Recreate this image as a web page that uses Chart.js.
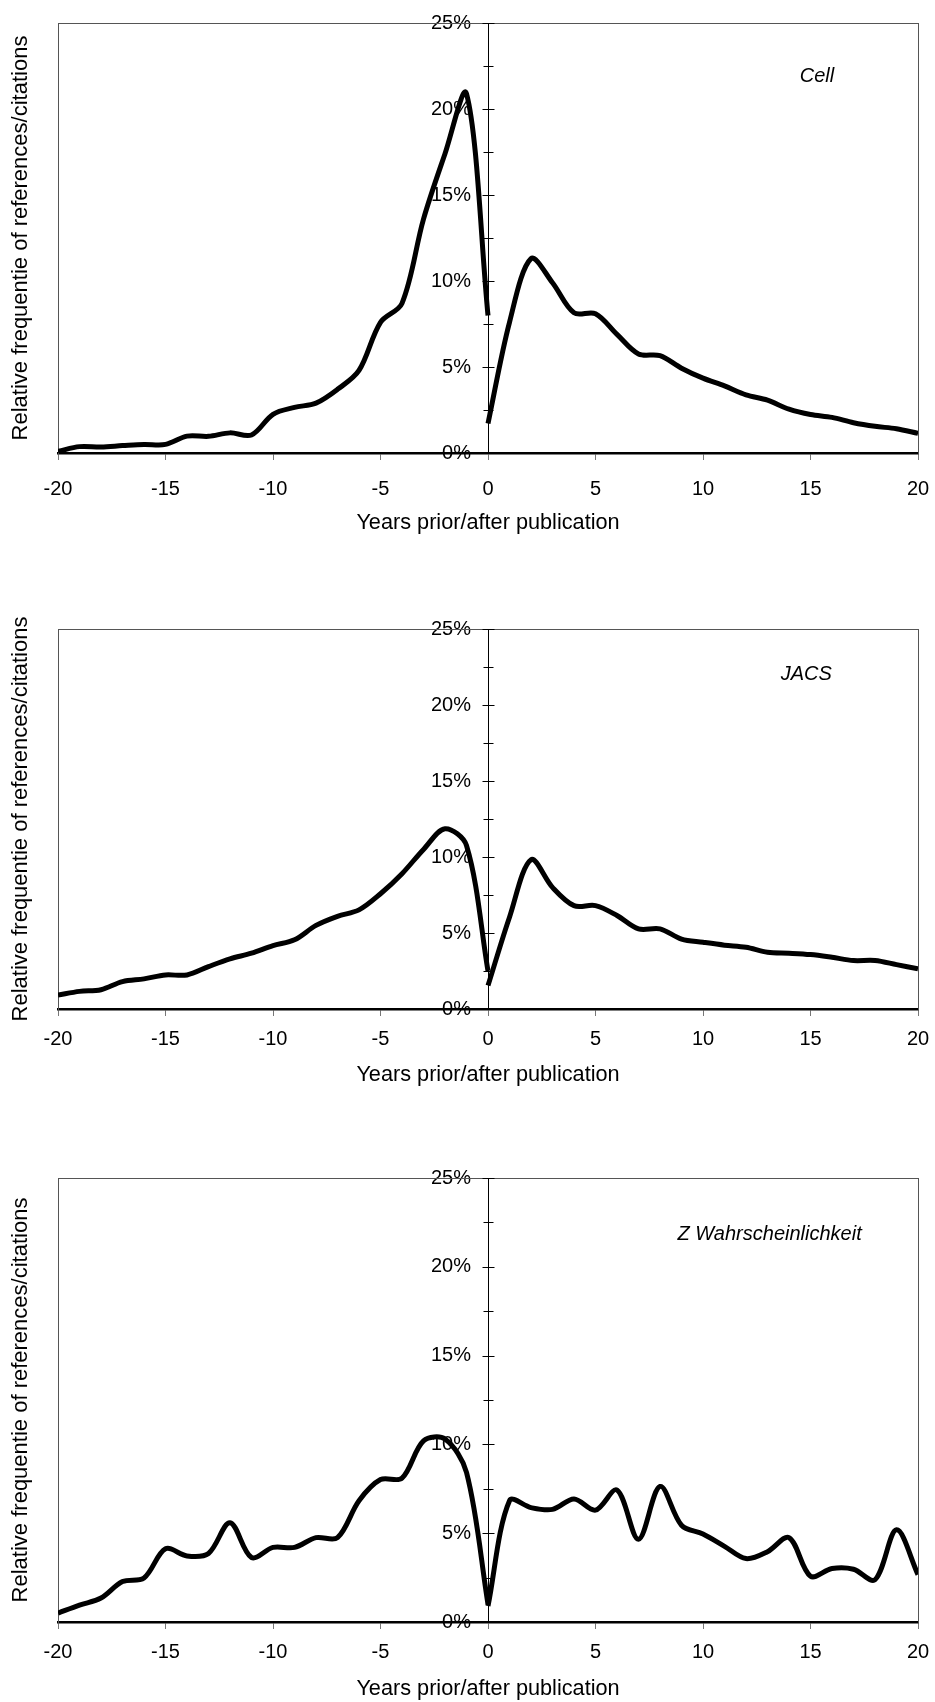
<!DOCTYPE html>
<html lang="en">
  <head>
    <meta charset="UTF-8" />
    <title>Age of references and citations</title>
    <script src="https://cdn.jsdelivr.net/npm/chart.js@4.4.1/dist/chart.umd.min.js"></script>
    <style>
      body { margin: 0; background: #fff; }
      #wrap { position: relative; width: 935px; height: 1702px; }
      canvas { position: absolute; left: 0; }
    </style>
  </head>
  <body>
  <div id="wrap">
    <canvas id="cellChart" width="935" height="570" style="top:0px"></canvas>
    <canvas id="jacsChart" width="935" height="530" style="top:570px"></canvas>
    <canvas id="zwChart" width="935" height="602" style="top:1100px"></canvas>
  </div>

  <script>
    // years before and after publication
    const yearsPrior = [-20, -19, -18, -17, -16, -15, -14, -13, -12, -11, -10, -9, -8, -7, -6, -5, -4, -3, -2, -1, 0];
    const yearsAfter = [0, 1, 2, 3, 4, 5, 6, 7, 8, 9, 10, 11, 12, 13, 14, 15, 16, 17, 18, 19, 20];

    // Cell (percent)
    const cellPrior = [0.1, 0.37, 0.35, 0.43, 0.5, 0.5, 0.98, 0.97, 1.17, 1.05, 2.25, 2.65, 2.9, 3.7, 4.8, 7.6, 8.7, 13.6, 17.4, 20.9, 8.0];
    const cellAfter = [1.72, 7.6, 11.3, 9.9, 8.15, 8.1, 6.9, 5.76, 5.66, 4.93, 4.35, 3.9, 3.38, 3.07, 2.55, 2.24, 2.07, 1.76, 1.55, 1.41, 1.14];

    // JACS (percent)
    const jacsPrior = [0.92, 1.16, 1.27, 1.8, 1.98, 2.24, 2.24, 2.79, 3.3, 3.67, 4.17, 4.55, 5.5, 6.1, 6.52, 7.58, 8.9, 10.5, 11.86, 10.76, 2.5];
    const jacsAfter = [1.54, 6.04, 9.82, 8.0, 6.8, 6.8, 6.15, 5.27, 5.27, 4.6, 4.39, 4.2, 4.06, 3.73, 3.67, 3.58, 3.4, 3.19, 3.19, 2.92, 2.64];

    // Z Wahrscheinlichkeit (percent)
    const zwPrior = [0.5, 0.95, 1.35, 2.28, 2.48, 4.12, 3.72, 3.86, 5.59, 3.63, 4.2, 4.2, 4.75, 4.75, 6.83, 8.02, 8.1, 10.2, 10.3, 8.42, 1.0];
    const zwAfter = [0.9, 6.83, 6.44, 6.34, 6.93, 6.3, 7.43, 4.66, 7.63, 5.45, 4.95, 4.26, 3.57, 3.96, 4.75, 2.58, 3.01, 2.97, 2.38, 5.19, 2.67];

    const yTicks = [0, 5, 10, 15, 20, 25];

    const font = '"Liberation Sans", Arial, sans-serif';

    // draws the small crossing ticks on the centre axis and the journal name
    const extras = {
      id: 'extras',
      afterDraw(chart, args, opts) {
        const ctx = chart.ctx;
        const xs = chart.scales.x, ys = chart.scales.y;
        const x0 = Math.round(xs.getPixelForValue(0)) + 0.5;
        ctx.save();
        ctx.strokeStyle = '#000';
        ctx.lineWidth = 1;
        ys.ticks.forEach(t => {
          if (t.value === 0) return;
          const py = Math.round(ys.getPixelForValue(t.value)) + 0.5;
          const half = t.value % 5 === 0 ? 6 : 5;
          ctx.beginPath();
          ctx.moveTo(x0 - half, py);
          ctx.lineTo(x0 + half, py);
          ctx.stroke();
        });
        ctx.fillStyle = '#000';
        ctx.font = 'italic 20px ' + font;
        ctx.textAlign = 'center';
        ctx.textBaseline = 'middle';
        ctx.fillText(opts.text, xs.getPixelForValue(opts.x), ys.getPixelForValue(opts.y));
        ctx.restore();
      }
    };

    function toPoints(xs, ys) {
      return xs.map((x, i) => ({x: x, y: ys[i]}));
    }

    function makePanel(id, prior, after, name, lay) {
      const line = {
        borderColor: '#000',
        borderWidth: 5,
        pointRadius: 0,
        tension: 0.33,
        fill: false,
        borderJoinStyle: 'round'
      };
      new Chart(document.getElementById(id), {
        type: 'line',
        data: {
          datasets: [
            Object.assign({label: 'references', data: toPoints(yearsPrior, prior)}, line),
            Object.assign({label: 'citations', data: toPoints(yearsAfter, after)}, line)
          ]
        },
        options: {
          responsive: false,
          animation: false,
          events: [],
          layout: {padding: 0},
          plugins: {
            legend: {display: false},
            tooltip: {enabled: false},
            extras: {text: name.text, x: name.x, y: name.y}
          },
          scales: {
            x: {
              type: 'linear',
              position: 'bottom',
              min: -20,
              max: 20,
              ticks: {stepSize: 5, color: '#000', font: {family: font, size: 20}, padding: lay.tickPad, maxRotation: 0},
              grid: {drawOnChartArea: false, drawTicks: true, tickLength: 7, color: '#777'},
              border: {color: '#000', width: 2.5},
              title: {display: true, text: 'Years prior/after publication', color: '#000',
                      font: {family: font, size: 21.7}, padding: {top: 0, bottom: lay.titlePad}},
              afterFit: s => { s.height = lay.xH; s.paddingLeft = 0; s.paddingRight = 0; }
            },
            y: {
              type: 'linear',
              position: 'center',
              min: 0,
              max: 25,
              ticks: {
                stepSize: 2.5,
                color: '#000',
                font: {family: font, size: 20},
                padding: 17,
                callback: v => (v % 5 === 0 && yTicks.includes(v)) ? v + '%' : ''
              },
              grid: {drawOnChartArea: false, drawTicks: false},
              border: {color: '#000', width: 1},
              afterFit: s => { s.paddingTop = 0; s.paddingBottom = 0; }
            },
            yl: {
              type: 'linear',
              position: 'left',
              min: 0,
              max: 25,
              ticks: {display: false},
              grid: {display: false, drawTicks: false},
              border: {color: '#555', width: 1},
              title: {display: true, text: 'Relative frequentie of references/citations', color: '#000',
                      font: {family: font, size: 22}, padding: {top: 8, bottom: 0}},
              afterFit: s => { s.width = 58; }
            },
            yr: {
              type: 'linear',
              position: 'right',
              min: 0,
              max: 25,
              ticks: {display: false},
              grid: {display: false, drawTicks: false},
              border: {color: '#555', width: 1},
              afterFit: s => { s.width = 17; }
            },
            xTop: {
              type: 'linear',
              position: 'top',
              min: -20,
              max: 20,
              ticks: {display: false},
              grid: {display: false, drawTicks: false},
              border: {color: '#555', width: 1},
              afterFit: s => { s.height = lay.top; }
            }
          }
        },
        plugins: [extras]
      });
    }

    makePanel('cellChart', cellPrior, cellAfter, {text: 'Cell', x: 15.3, y: 21.9},
      {top: 23, xH: 117, tickPad: 17, titlePad: 34});
    makePanel('jacsChart', jacsPrior, jacsAfter, {text: 'JACS', x: 14.8, y: 22.0},
      {top: 59, xH: 91, tickPad: 11, titlePad: 12});
    makePanel('zwChart', zwPrior, zwAfter, {text: 'Z Wahrscheinlichkeit', x: 13.1, y: 21.8},
      {top: 78, xH: 80, tickPad: 11, titlePad: 0});
  </script>
  </body>
</html>
